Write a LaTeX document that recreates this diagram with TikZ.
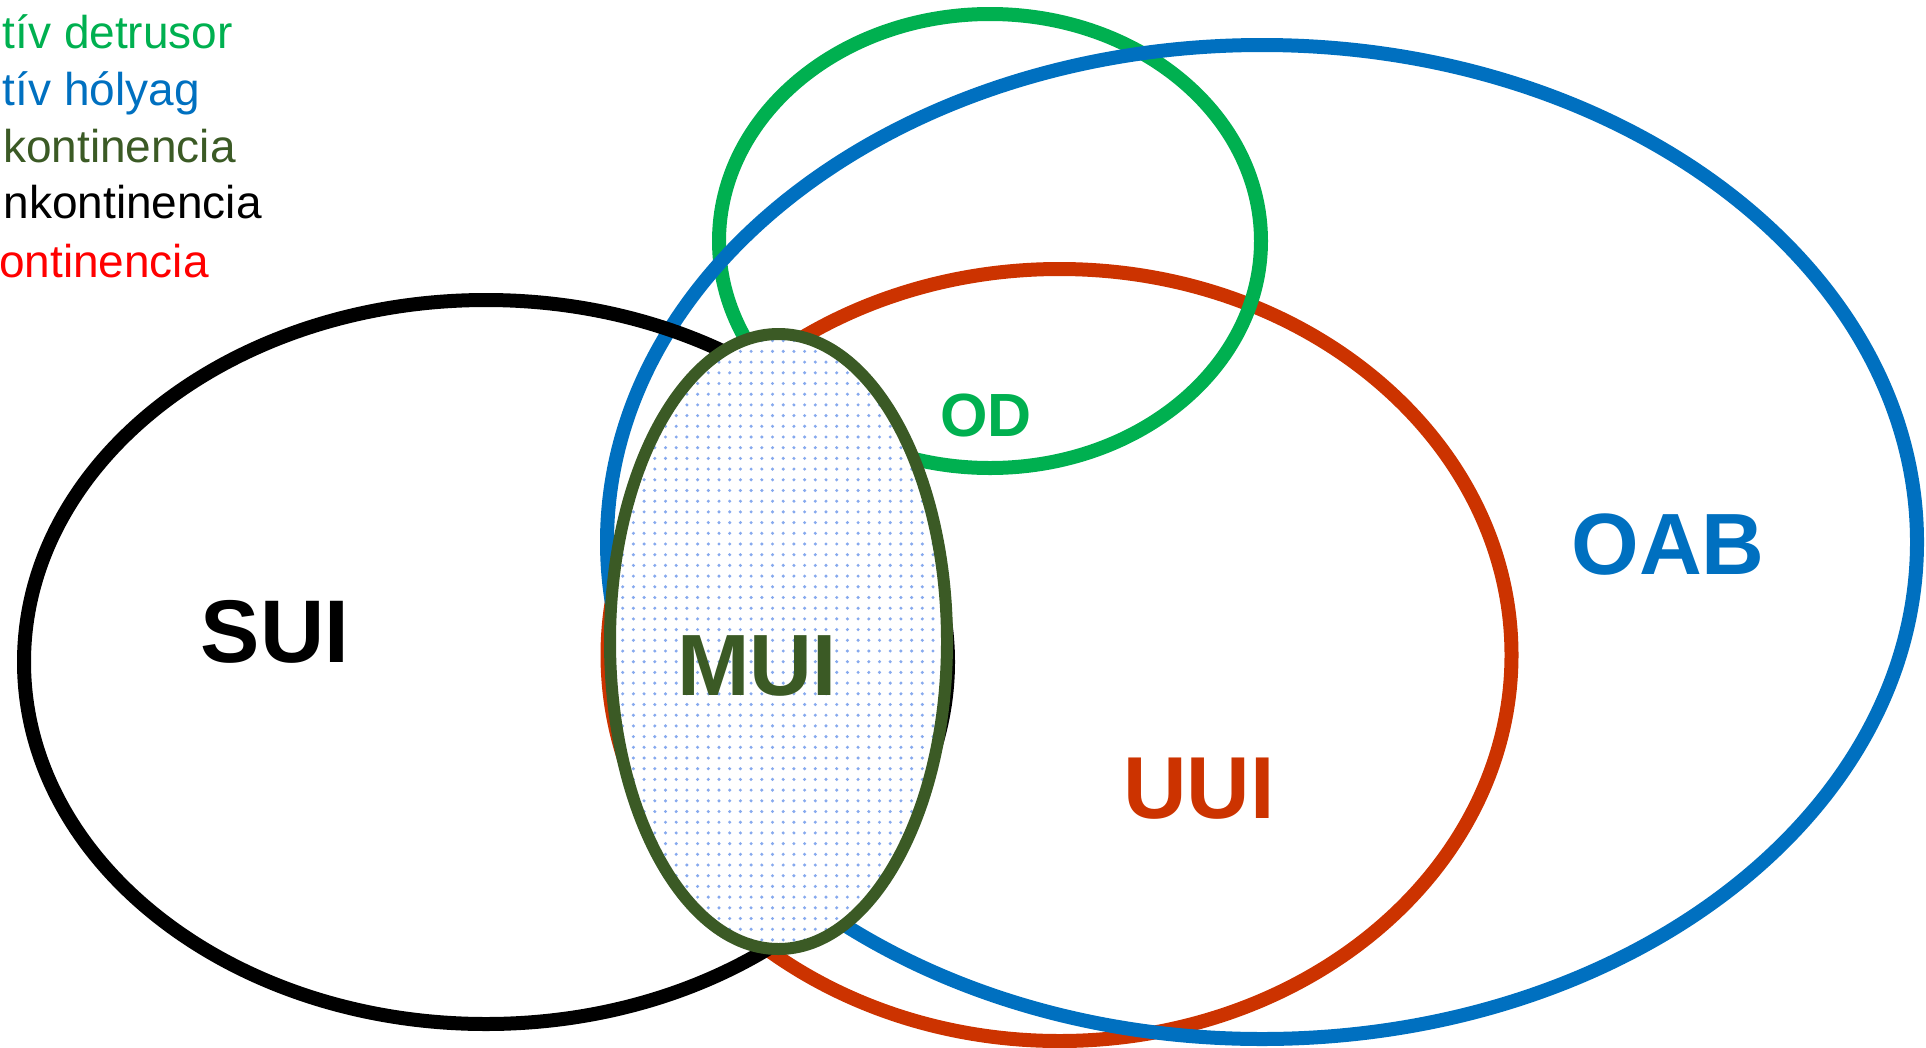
\documentclass[tikz,border=0pt]{standalone}
\usepackage{fontspec}
\setmainfont{Liberation Sans}
\definecolor{odgreen}{HTML}{00B050}
\definecolor{oabblue}{HTML}{0070C0}
\definecolor{muigreen}{HTML}{3B5A25}
\definecolor{uuired}{HTML}{CC3300}
\definecolor{legred}{HTML}{FF0000}
\definecolor{dotblue}{HTML}{86A9EE}
\tikzset{
  ring/.style={line width=14pt},
  biglabel/.style={inner sep=0pt, font=\bfseries\fontsize{#1}{#1}\selectfont},
  legend/.style={inner sep=0pt, anchor=base east, font=\fontsize{46}{55}\selectfont},
  dot/.style={fill=dotblue},
}
\begin{document}
\begin{tikzpicture}[x=1pt,y=-1pt]
\useasboundingbox (0,0) rectangle (1926,1047);
% UUI (red)
\draw[ring, uuired] (1059.5,655) ellipse [x radius=452, y radius=386];
% OD (green)
\draw[ring, odgreen] (990,241) ellipse [x radius=271, y radius=227];
% OAB (blue)
\draw[ring, oabblue] (1262,542) ellipse [x radius=655, y radius=497];
% SUI (black)
\draw[ring, black] (486,662) ellipse [x radius=462, y radius=362];
% MUI (dark green, dotted fill)
\fill[white] (778.5,641.5) ellipse [x radius=168.5, y radius=307.5];
\begin{scope}
  \clip (778.5,641.5) ellipse [x radius=168.5, y radius=307.5];
  \foreach \i in {0,...,32} {
    \foreach \j in {0,...,58} {
      \fill[dot] (612+\i*10.7, 330+\j*10.7) circle [radius=1.7pt];
    }
  }
\end{scope}
\draw[line width=12pt, muigreen] (778.5,641.5) ellipse [x radius=168.5, y radius=307.5];
% labels
\node[biglabel=89, text=black] (sui) at (275,632) {SUI};
\node[biglabel=87, text=muigreen] (mui) at (757,666) {MUI};
\node[biglabel=61, text=odgreen] (od) at (986,415) {OD};
\node[biglabel=87, text=oabblue] (oab) at (1668,545) {OAB};
\node[biglabel=88, text=uuired] (uui) at (1199,789) {UUI};
% legend
\node[legend, text=odgreen] (l1) at (233,48) {tív detrusor};
\node[legend, text=oabblue] (l2) at (200,105) {tív hólyag};
\node[legend, text=muigreen] (l3) at (236,162) {kontinencia};
\node[legend, text=black] (l4) at (262,218) {nkontinencia};
\node[legend, text=legred] (l5) at (209,277) {ontinencia};
\end{tikzpicture}
\end{document}
